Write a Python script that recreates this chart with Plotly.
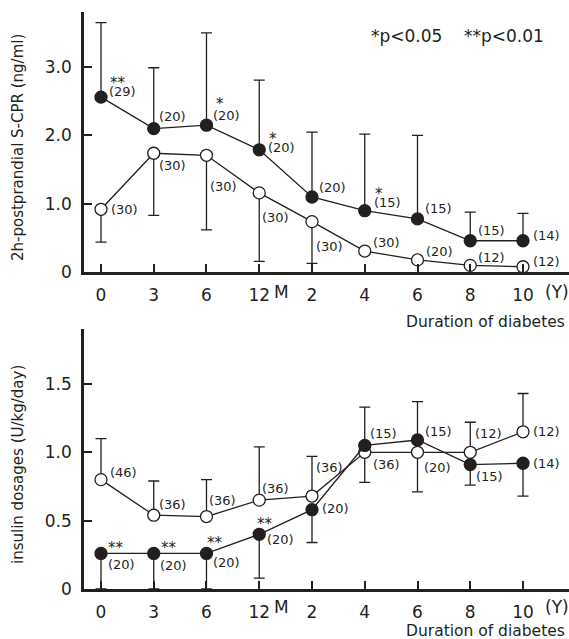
import plotly.graph_objects as go

# ---------------- data ----------------
categories = ["0M", "3M", "6M", "12M", "2Y", "4Y", "6Y", "8Y", "10Y"]
tick_labels = ["0", "3", "6", "12", "2", "4", "6", "8", "10"]

# Top panel: 2h-postprandial S-CPR (ng/ml)
cpr_filled = [2.56, 2.10, 2.15, 1.79, 1.10, 0.90, 0.78, 0.46, 0.46]
cpr_filled_sd = [1.09, 0.89, 1.35, 1.02, 0.95, 1.12, 1.22, 0.42, 0.40]
cpr_filled_dir = [1, 1, 1, 1, 1, 1, 1, 1, 1]
cpr_filled_n = [29, 20, 20, 20, 20, 15, 15, 15, 14]
cpr_filled_sig = ["**", "", "*", "*", "", "*", "", "", ""]

cpr_open = [0.92, 1.74, 1.71, 1.16, 0.74, 0.31, 0.18, 0.10, 0.08]
cpr_open_sd = [0.48, 0.91, 1.09, 1.00, 0.61, 0, 0, 0, 0]
cpr_open_dir = [-1, -1, -1, -1, -1, -1, -1, -1, -1]
cpr_open_n = [30, 30, 30, 30, 30, 30, 20, 12, 12]

# Bottom panel: insulin dosages (U/kg/day)
ins_filled = [0.26, 0.26, 0.26, 0.40, 0.58, 1.05, 1.09, 0.91, 0.92]
ins_filled_sd = [0.26, 0.26, 0.26, 0.32, 0.24, 0.28, 0.28, 0.15, 0.24]
ins_filled_dir = [-1, -1, -1, -1, -1, 1, 1, -1, -1]
ins_filled_n = [20, 20, 20, 20, 20, 15, 15, 15, 14]
ins_filled_sig = ["**", "**", "**", "**", "", "", "", "", ""]

ins_open = [0.80, 0.54, 0.53, 0.65, 0.68, 1.00, 1.00, 1.00, 1.15]
ins_open_sd = [0.30, 0.25, 0.27, 0.39, 0.29, 0.22, 0.29, 0.22, 0.28]
ins_open_dir = [1, 1, 1, 1, 1, -1, -1, 1, 1]
ins_open_n = [46, 36, 36, 36, 36, 36, 20, 12, 12]

cpr_ticks = [0, 1, 2, 3]
cpr_ticktext = ["0", "1.0", "2.0", "3.0"]
ins_ticks = [0, 0.5, 1.0, 1.5]
ins_ticktext = ["0", "0.5", "1.0", "1.5"]

# ---------------- label offsets (style, screen px: dx right, dy down) ----------------
cpr_filled_off = [(6, -6), (3, -12), (5, -10), (7, -2), (5, -10), (7, -8), (5, -10), (6, -10), (8, -5)]
cpr_filled_sig_off = [(7, -14), None, (8, -21), (8, -11), None, (8, -17), None, None, None]
cpr_open_off = [(8, 0), (3, 12), (2, 31), (1, 25), (2, 25), (6, -9), (6, -8), (6, -8), (8, -5)]
ins_filled_off = [(5, 11), (4, 12), (5, 9), (6, 5), (8, -1), (3, -12), (5, -9), (4, 12), (8, 0)]
ins_filled_sig_off = [(5, -5), (5, -5), (-1, -10), (-4, -10), None, None, None, None, None]
ins_open_off = [(7, -7), (3, -11), (1, -16), (1, -12), (2, -29), (6, 12), (4, 15), (3, -19), (8, 0)]

INK = "#231f20"
FONT = "DejaVu Sans, Verdana, sans-serif"
NBSP = "\u00a0"


def err(sd, direction):
    up = [s if d > 0 else 0 for s, d in zip(sd, direction)]
    dn = [s if d < 0 else 0 for s, d in zip(sd, direction)]
    return dict(type="data", symmetric=False, array=up, arrayminus=dn,
                color=INK, thickness=1.3, width=5.5)


def series(vals, sd, direction, filled, xa, ya):
    return go.Scatter(
        x=categories, y=vals, mode="lines+markers", xaxis=xa, yaxis=ya,
        line=dict(color=INK, width=1.3),
        marker=dict(size=12, color=INK if filled else "white",
                    line=dict(color=INK, width=1.3)),
        error_y=err(sd, direction), cliponaxis=False, showlegend=False,
        hoverinfo="skip")


fig = go.Figure()
fig.add_trace(series(cpr_open, cpr_open_sd, cpr_open_dir, False, "x", "y"))
fig.add_trace(series(cpr_filled, cpr_filled_sd, cpr_filled_dir, True, "x", "y"))
fig.add_trace(series(ins_open, ins_open_sd, ins_open_dir, False, "x2", "y2"))
fig.add_trace(series(ins_filled, ins_filled_sd, ins_filled_dir, True, "x2", "y2"))

annotations = []


def add_labels(vals, ns, offs, xr, yr):
    for c, v, n, o in zip(categories, vals, ns, offs):
        annotations.append(dict(x=c, y=v, xref=xr, yref=yr, text=f"({n})",
                                showarrow=False, xanchor="left", yanchor="middle",
                                xshift=o[0], yshift=-o[1],
                                font=dict(size=13, color=INK, family=FONT)))


def add_sig(vals, sigs, offs, xr, yr):
    for c, v, s, o in zip(categories, vals, sigs, offs):
        if s and o:
            annotations.append(dict(x=c, y=v, xref=xr, yref=yr, text=s,
                                    showarrow=False, xanchor="left", yanchor="middle",
                                    xshift=o[0], yshift=-o[1],
                                    font=dict(size=15, color=INK, family=FONT)))


add_labels(cpr_filled, cpr_filled_n, cpr_filled_off, "x", "y")
add_labels(cpr_open, cpr_open_n, cpr_open_off, "x", "y")
add_sig(cpr_filled, cpr_filled_sig, cpr_filled_sig_off, "x", "y")
add_labels(ins_filled, ins_filled_n, ins_filled_off, "x2", "y2")
add_labels(ins_open, ins_open_n, ins_open_off, "x2", "y2")
add_sig(ins_filled, ins_filled_sig, ins_filled_sig_off, "x2", "y2")

for xr, yr, ys, cs in (("x", "y", -20, -50), ("x2", "y2", -18, -42)):
    # "M" after 12, "(Y)" after 10, x-axis caption
    annotations.append(dict(x="12M", y=0, xref=xr, yref=yr, text="M", showarrow=False,
                            xanchor="left", yanchor="middle", xshift=13, yshift=ys,
                            font=dict(size=17, color=INK, family=FONT)))
    annotations.append(dict(x="10Y", y=0, xref=xr, yref=yr, text="(Y)", showarrow=False,
                            xanchor="left", yanchor="middle", xshift=20, yshift=ys,
                            font=dict(size=17, color=INK, family=FONT)))
    annotations.append(dict(x=1, y=0, xref=xr + " domain", yref=yr + " domain",
                            text="Duration of diabetes", showarrow=False,
                            xanchor="right", yanchor="middle", xshift=-2, yshift=cs,
                            font=dict(size=15.5, color=INK, family=FONT)))

annotations.append(dict(x=(546 - 84) / 485, y=(589 - 36) / 577, xref="paper", yref="paper",
                        text="*p&lt;0.05" + NBSP * 4 + "**p&lt;0.01", showarrow=False,
                        xanchor="right", yanchor="middle",
                        font=dict(size=17, color=INK, family=FONT)))
annotations.append(dict(x=(18 - 84) / 485, y=(589 - 148) / 577, xref="paper", yref="paper",
                        text="2h-postprandial S-CPR" + NBSP + "(ng/ml)", textangle=-90,
                        showarrow=False, xanchor="center", yanchor="middle",
                        font=dict(size=15, color=INK, family=FONT)))
annotations.append(dict(x=(18 - 84) / 485, y=(589 - 465) / 577, xref="paper", yref="paper",
                        text="insulin dosages" + NBSP + "(U/kg/day)", textangle=-90,
                        showarrow=False, xanchor="center", yanchor="middle",
                        font=dict(size=15, color=INK, family=FONT)))

xcommon = dict(type="category", categoryorder="array", categoryarray=categories,
               range=[-0.322, 8.872], showline=True, linewidth=2.5, linecolor=INK,
               ticks="inside", ticklen=8, tickwidth=2, tickcolor=INK,
               tickmode="array", tickvals=categories, ticktext=tick_labels,
               tickfont=dict(size=17, color=INK, family=FONT), showgrid=False,
               zeroline=False, ticklabelstandoff=6, automargin=False)
ycommon = dict(showline=True, linewidth=2.5, linecolor=INK, ticks="inside",
               ticklen=8, tickwidth=2, tickcolor=INK,
               tickfont=dict(size=17, color=INK, family=FONT), showgrid=False,
               zeroline=False, tickmode="array", ticklabelstandoff=6, automargin=False)

fig.update_layout(
    width=569, height=639,
    margin=dict(l=84, r=0, t=12, b=50, autoexpand=False),
    paper_bgcolor="white", plot_bgcolor="white",
    font=dict(family=FONT, color=INK),
    xaxis=dict(**xcommon, anchor="y", domain=[0, 1]),
    yaxis=dict(**ycommon, anchor="x", domain=[0.549, 1], range=[0, 3.805],
               tickvals=cpr_ticks, ticktext=cpr_ticktext),
    xaxis2=dict(**xcommon, anchor="y2", domain=[0, 1]),
    yaxis2=dict(**ycommon, anchor="x2", domain=[0, 0.4506], range=[0, 1.902],
                tickvals=ins_ticks, ticktext=ins_ticktext),
    annotations=annotations,
)

fig.write_html("out.html", config={"displayModeBar": False},
               post_script="document.body.style.margin='0';document.body.style.overflow='hidden';")
